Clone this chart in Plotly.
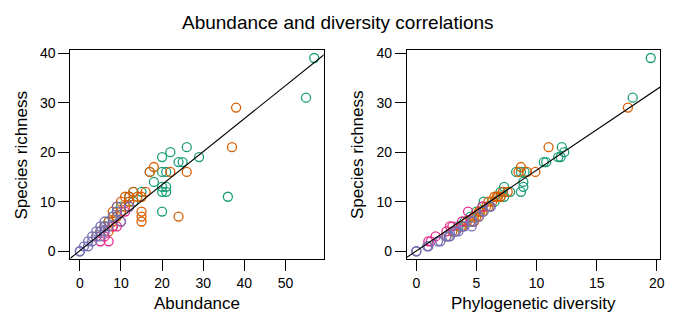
import plotly.graph_objects as go

# ---- data (richness, abundance, phylogenetic diversity) per group ----
green_rich = [39, 31, 21, 20, 19, 19, 18, 18, 16, 16, 16, 14, 13, 13, 12, 12, 12, 12, 11, 11, 10, 10, 9, 8, 8, 7, 6, 5]
green_abun = [57, 55, 26, 22, 20, 29, 24, 25, 17, 20, 21, 18, 20, 21, 20, 21, 13, 15, 36, 12, 13, 12, 10, 20, 9, 8, 7, 6]
green_pd = [19.5, 18.0, 12.1, 12.3, 12.0, 11.8, 10.6, 10.8, 8.3, 8.7, 9.0, 8.9, 7.3, 8.9, 8.7, 7.8, 7.0, 7.2, 7.3, 7.0, 5.6, 6.5, 5.5, 5.0, 5.3, 4.5, 4.0, 3.5]

orange_rich = [29, 21, 17, 16, 16, 16, 12, 12, 11, 11, 11, 11, 10, 10, 9, 9, 8, 8, 8, 7, 7, 7, 6, 6, 6, 5, 5, 4, 4, 3]
orange_abun = [38, 37, 18, 22, 26, 17, 16, 13, 11, 14, 15, 12, 12, 10, 11, 9, 15, 8, 10, 24, 15, 9, 15, 8, 7, 8, 6, 7, 5, 4]
orange_pd = [17.6, 11.0, 8.7, 9.9, 9.2, 8.5, 7.2, 7.6, 6.5, 7.0, 6.8, 6.7, 6.3, 6.0, 6.0, 5.8, 5.5, 5.2, 5.3, 5.2, 5.0, 4.8, 4.8, 4.5, 4.2, 3.8, 3.7, 3.2, 3.0, 2.5]

pink_rich = [2, 2, 3, 4, 5, 5, 6, 8, 9]
pink_abun = [5, 7, 6, 6, 8, 9, 10, 11, 12]
pink_pd = [1.0, 1.2, 1.6, 2.5, 3.0, 2.8, 3.8, 4.3, 5.5]

purple_rich = [0, 0, 1, 1, 2, 2, 3, 3, 3, 4, 4, 4, 5, 5, 5, 6, 6, 7, 8, 9, 9]
purple_abun = [0, 0, 1, 2, 2, 3, 3, 4, 5, 4, 5, 6, 5, 6, 7, 6, 10, 8, 9, 9, 12]
purple_pd = [0, 0, 0.9, 1.0, 1.8, 2.0, 2.5, 2.7, 2.8, 3.2, 3.3, 3.5, 3.9, 4.0, 4.6, 4.6, 4.7, 5.2, 5.6, 6.1, 6.2]

# regression fits (intercept, slope)
fit_abun = [0.12, 0.666]
fit_pd = [0.07, 1.63]

x_ticks_abun = [0, 10, 20, 30, 40, 50]
x_ticks_pd = [0, 5, 10, 15, 20]
y_ticks = [0, 10, 20, 30, 40]

title_text = "Abundance and diversity correlations"
xlab_left = "Abundance"
xlab_right = "Phylogenetic diversity"
ylab = "Species richness"

colors = ["#1b9e77", "#d95f02", "#e7298a", "#7570b3"]
groups = [
    (green_rich, green_abun, green_pd),
    (orange_rich, orange_abun, orange_pd),
    (pink_rich, pink_abun, pink_pd),
    (purple_rich, purple_abun, purple_pd),
]

W, H = 681, 321
FONT = "Liberation Sans, Arial, Helvetica, sans-serif"

def pad(lo, hi):
    d = (hi - lo) * 0.04
    return [lo - d, hi + d]

all_rich = sum([g[0] for g in groups], [])
all_abun = sum([g[1] for g in groups], [])
all_pd = sum([g[2] for g in groups], [])
yr = pad(min(all_rich), max(all_rich))
xr1 = pad(min(all_abun), max(all_abun))
xr2 = pad(min(all_pd), max(all_pd))

fig = go.Figure()
for (rich, abun, pd_), col in zip(groups, colors):
    mk = dict(symbol="circle-open", size=9, color=col, line=dict(width=1.3, color=col))
    fig.add_trace(go.Scatter(x=abun, y=rich, mode="markers", marker=mk, xaxis="x", yaxis="y", showlegend=False))
    fig.add_trace(go.Scatter(x=pd_, y=rich, mode="markers", marker=mk, xaxis="x2", yaxis="y2", showlegend=False))

for fit, xr, xa, ya in [(fit_abun, xr1, "x", "y"), (fit_pd, xr2, "x2", "y2")]:
    xs = [xr[0] - 5, xr[1] + 5]
    ys = [fit[0] + fit[1] * v for v in xs]
    fig.add_trace(go.Scatter(x=xs, y=ys, mode="lines", line=dict(color="black", width=1.1),
                             xaxis=xa, yaxis=ya, showlegend=False, hoverinfo="skip"))

yd = [(H - 258) / H, (H - 46) / H]
axcommon = dict(showgrid=False, zeroline=False, showline=True, mirror=True, linecolor="black", linewidth=1.2,
                ticks="outside", ticklen=11, tickwidth=1.2, tickcolor="black",
                tickfont=dict(family=FONT, size=14, color="black"))
fig.update_layout(
    width=W, height=H, margin=dict(l=0, r=0, t=0, b=0),
    paper_bgcolor="white", plot_bgcolor="white",
    xaxis=dict(domain=[71 / W, 326 / W], range=xr1, tickvals=x_ticks_abun, anchor="y", **axcommon),
    yaxis=dict(domain=yd, range=yr, tickvals=y_ticks, anchor="x", **axcommon),
    xaxis2=dict(domain=[410 / W, 665 / W], range=xr2, tickvals=x_ticks_pd, anchor="y2", **axcommon),
    yaxis2=dict(domain=yd, range=yr, tickvals=y_ticks, anchor="x2", **axcommon),
)

ann = dict(xref="paper", yref="paper", showarrow=False, font=dict(family=FONT, size=17, color="black"))
fig.add_annotation(text=title_text, x=0.5, y=1 - 18 / H, xanchor="center", yanchor="middle",
                   **{**ann, "font": dict(family=FONT, size=19, color="black")})
fig.add_annotation(text=xlab_left, x=(71 + 326) / 2 / W, y=1 - 303 / H, xanchor="center", yanchor="middle", **ann)
fig.add_annotation(text=xlab_right, x=(410 + 665) / 2 / W, y=1 - 303 / H, xanchor="center", yanchor="middle", **ann)
fig.add_annotation(text=ylab, x=22 / W, y=1 - 152 / H, xanchor="center", yanchor="middle", textangle=-90, **ann)
fig.add_annotation(text=ylab, x=360 / W, y=1 - 152 / H, xanchor="center", yanchor="middle", textangle=-90, **ann)

fig.write_html("out.html")
